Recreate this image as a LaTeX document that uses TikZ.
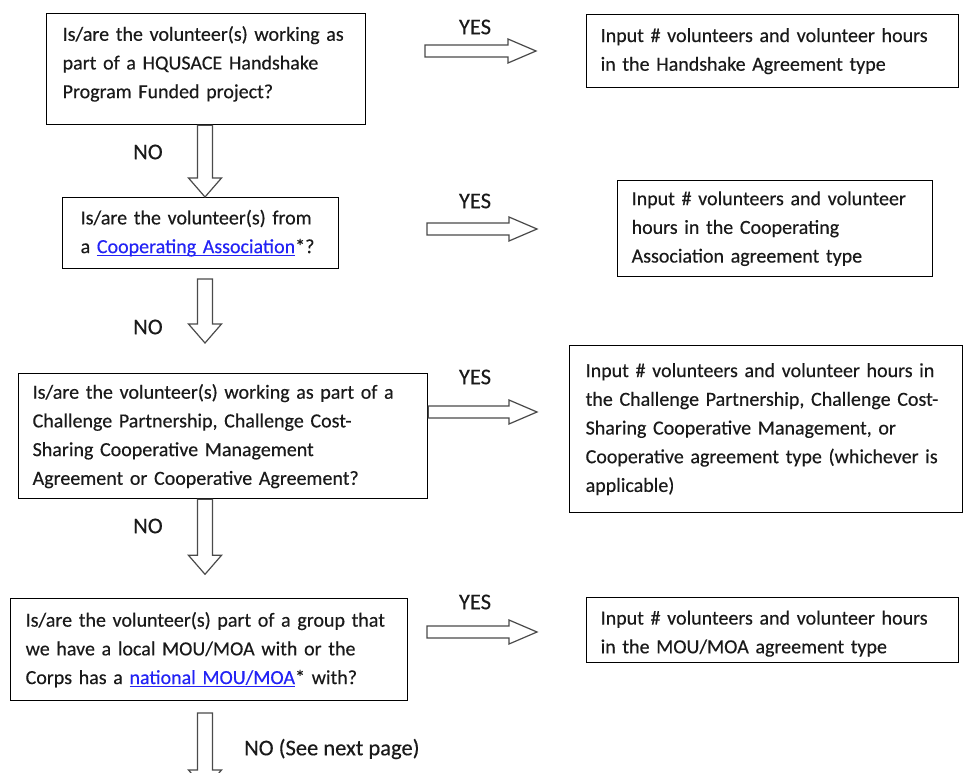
\documentclass[tikz,border=0pt]{standalone}
\usepackage{fontspec}
\setmainfont{Carlito}[FakeBold=0.35]
\usetikzlibrary{calc}
\definecolor{linkblue}{HTML}{2323F5}
\definecolor{txt}{HTML}{1A1A1A}
\definecolor{arrowgray}{HTML}{4A4A4A}
\newsavebox\lnkbox
\newcommand\lnk[1]{\sbox\lnkbox{\color{linkblue}#1}{\color{linkblue}\rlap{\rule[-2.6pt]{\wd\lnkbox}{1.1pt}}}\usebox\lnkbox}
\newcommand\lineb[1]{\mbox{#1}}
\newcommand\harrow[2]{\draw[blockarrow] ($(#1)+(0,-6)$) -- ($(#2)+(-28,-6)$) -- ($(#2)+(-28,-12)$) -- (#2) -- ($(#2)+(-28,12)$) -- ($(#2)+(-28,6)$) -- ($(#1)+(0,6)$) -- cycle;}
\newcommand\varrow[2]{\draw[blockarrow] ($(#1)+(-7.5,0)$) -- ($(#2)+(-7.5,-19)$) -- ($(#2)+(-16.5,-19)$) -- (#2) -- ($(#2)+(16.5,-19)$) -- ($(#2)+(7.5,-19)$) -- ($(#1)+(7.5,0)$) -- cycle;}
\begin{document}
\begin{tikzpicture}[x=1pt,y=-1pt,
  every node/.style={font=\fontsize{20}{28.7}\selectfont,text=txt},
  qbox/.style={draw=black,line width=1.3pt,align=left,anchor=north west,inner ysep=0pt},
  lbl/.style={inner sep=0pt,font=\fontsize{22.5}{26}\selectfont},
  blockarrow/.style={draw=arrowgray,line width=1.2pt,fill=white,line join=miter}]
\useasboundingbox[fill=white] (0,0) rectangle (963,773);

% question boxes
\node[qbox,text width=287pt,inner xsep=16pt,minimum height=111pt] (b1) at (46,13)
  {\lineb{Is/are the volunteer(s) working as}\\\lineb{part of a HQUSACE Handshake}\\\lineb{Program Funded project?\rule[-14pt]{0pt}{14pt}}};
\node[qbox,text width=240pt,inner xsep=18pt,minimum height=71pt] (b2) at (62,197)
  {\lineb{Is/are the volunteer(s) from}\\\lineb{a \lnk{Cooperating Association}*?}};
\node[qbox,text width=381pt,inner xsep=14pt,minimum height=125pt] (b3) at (18,373)
  {\lineb{Is/are the volunteer(s) working as part of a}\\\lineb{Challenge Partnership, Challenge Cost-}\\\lineb{Sharing Cooperative Management}\\\lineb{Agreement or Cooperative Agreement?}};
\node[qbox,text width=367pt,inner xsep=15pt,minimum height=102pt] (b4) at (10,598)
  {\lineb{Is/are the volunteer(s) part of a group that}\\\lineb{we have a local MOU/MOA with or the}\\\lineb{Corps has a \lnk{national MOU/MOA}* with?}};

% answer boxes
\node[qbox,text width=344pt,inner xsep=14pt,minimum height=73pt] (r1) at (586,14)
  {\lineb{Input \# volunteers and volunteer hours}\\\lineb{in the Handshake Agreement type}};
\node[qbox,text width=287pt,inner xsep=14pt,minimum height=96pt] (r2) at (617,180)
  {\lineb{Input \# volunteers and volunteer}\\\lineb{hours in the Cooperating}\\\lineb{Association agreement type}};
\node[qbox,text width=361pt,inner xsep=16pt,minimum height=167pt] (r3) at (569,345)
  {\lineb{Input \# volunteers and volunteer hours in}\\\lineb{the Challenge Partnership, Challenge Cost-}\\\lineb{Sharing Cooperative Management, or}\\\lineb{Cooperative agreement type (whichever is}\\\lineb{applicable)}};
\node[qbox,text width=344pt,inner xsep=14pt,minimum height=65pt] (r4) at (586,597)
  {\lineb{\rule{0pt}{21pt}Input \# volunteers and volunteer hours}\\\lineb{in the MOU/MOA agreement type}};

% arrow end points
\coordinate (ax) at (205,0);
\coordinate (y1s) at (425,51);  \coordinate (y1e) at (536,51);
\coordinate (y2s) at (427,229); \coordinate (y2e) at (537,229);
\coordinate (y3e) at (537,412);
\coordinate (y4s) at (427,632); \coordinate (y4e) at (537,632);
\coordinate (n2s) at (205,279); \coordinate (n2e) at (205,343);
\coordinate (n4s) at (205,713); \coordinate (n4e) at (205,789);

% YES arrows
\harrow{y1s}{y1e}
\harrow{y2s}{y2e}
\harrow{b3.east |- y3e}{y3e}
\harrow{y4s}{y4e}

% NO arrows
\varrow{b1.south -| ax}{b2.north -| ax}
\varrow{n2s}{n2e}
\varrow{b3.south -| ax}{$(b3.south -| ax)+(0,75)$}
\varrow{n4s}{n4e}

% labels
\node[lbl] (yes1) at (475,27) {YES};
\node[lbl] (yes2) at (475,201) {YES};
\node[lbl] (yes3) at (475,377) {YES};
\node[lbl] (yes4) at (475,602) {YES};
\node[lbl] (no1) at (148,152) {NO};
\node[lbl] (no2) at (148,327) {NO};
\node[lbl] (no3) at (148,526) {NO};
\node[lbl,anchor=west] (no4) at (244,749) {NO (See next page)};
\end{tikzpicture}
\end{document}
